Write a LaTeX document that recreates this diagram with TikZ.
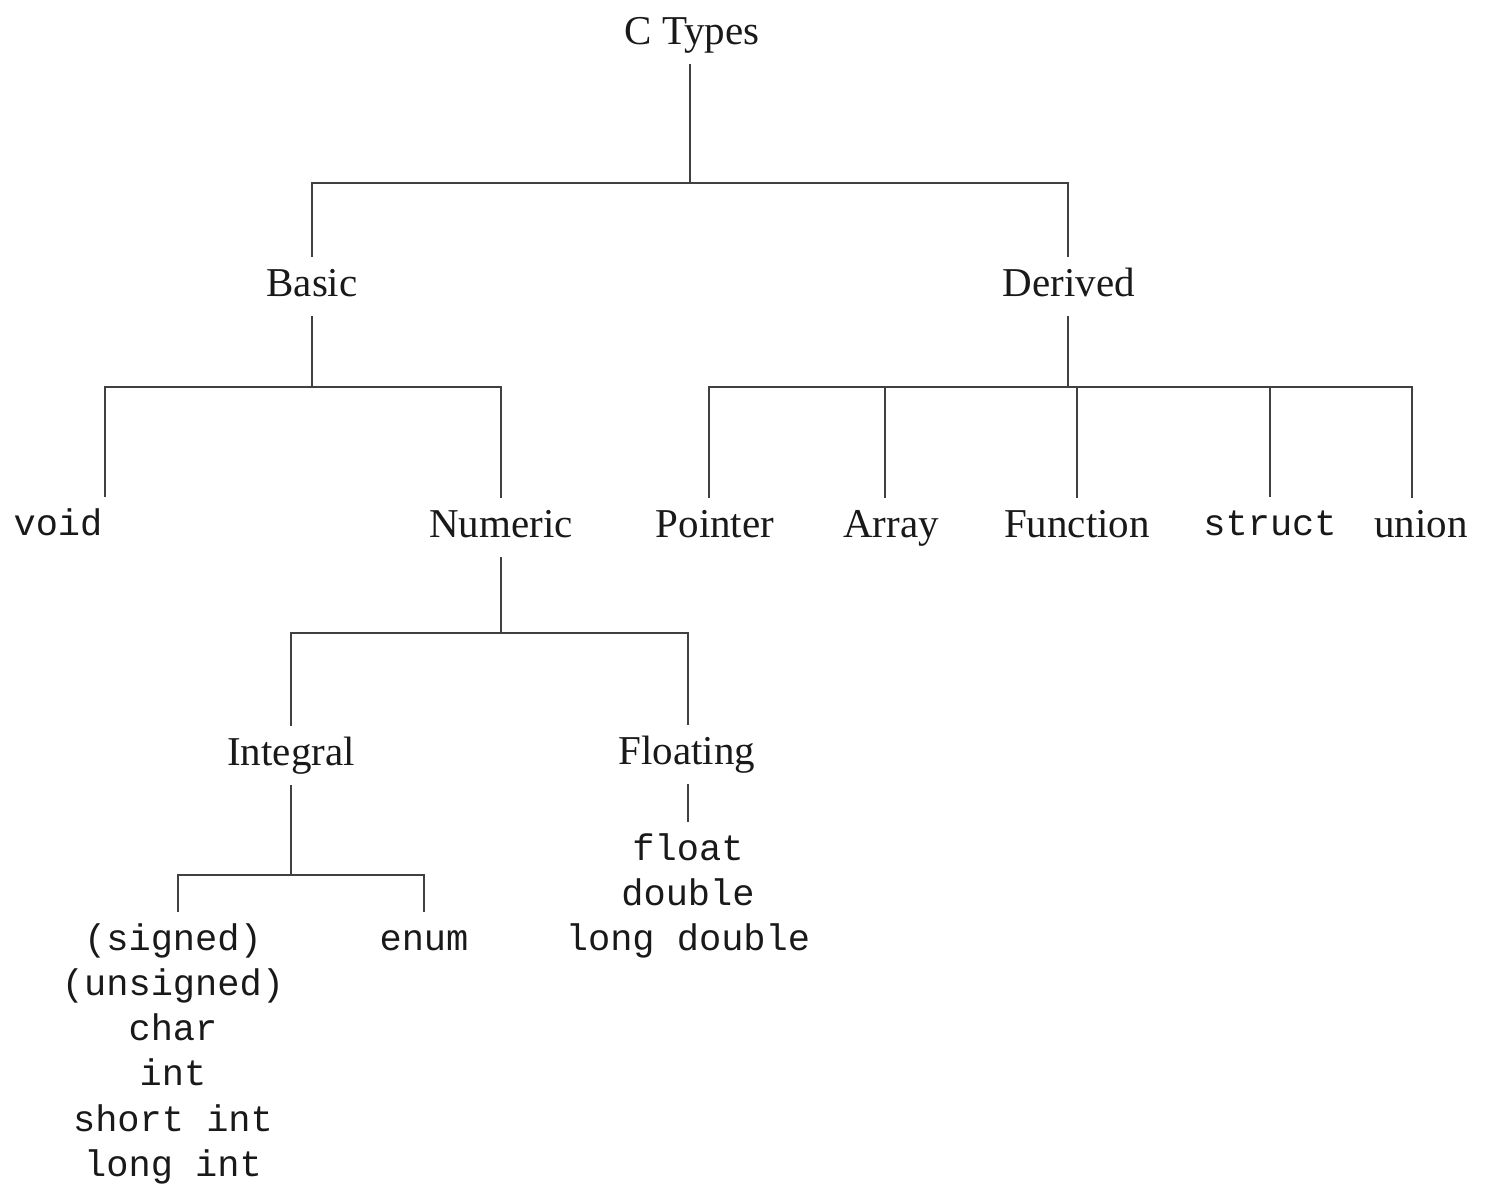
\documentclass[tikz,border=0pt]{standalone}
\usepackage{fontspec}
\setmainfont{Liberation Serif}
\setmonofont{Liberation Mono}
\begin{document}
\begin{tikzpicture}[x=1pt,y=-1pt,
  conn/.style={draw=black!75, line width=2pt},
  ser/.style={font=\fontsize{41}{45}\selectfont, text=black!90, text height=31pt, text depth=12pt, inner xsep=0pt, inner ysep=8pt, anchor=base},
  monolist/.style={font=\ttfamily\fontsize{37}{45.3}\selectfont, text=black!90, inner xsep=0pt, inner ysep=6pt, anchor=base},
  mono/.style={monolist, text height=31.7pt, text depth=13.6pt}]
\useasboundingbox (0,0) rectangle (1485,1183);
% bar levels
\coordinate (bar0) at (0,183);
\coordinate (bar1) at (0,387);
\coordinate (bar2) at (0,633);
\coordinate (bar3) at (0,875);
% nodes
\node[ser] (root) at (692,44) {C Types};
\node[ser] (basic) at (312,296) {Basic};
\node[ser] (derived) at (1069,296) {Derived};
\node[mono] (void) at (58,535) {void};
\node[ser] (numeric) at (501,537) {Numeric};
\node[ser] (pointer) at (715,537) {Pointer};
\node[ser] (array) at (891,537) {Array};
\node[ser] (function) at (1077,537) {Function};
\node[mono] (struct) at (1270,535) {struct};
\node[ser] (union) at (1421,537) {union};
\node[ser] (integral) at (291,765) {Integral};
\node[ser] (floating) at (687,764) {Floating};
\node[monolist] (intlist) at (173,950) {\begin{tabular}[t]{@{}c@{}}(signed)\\(unsigned)\\char\\int\\short int\\long int\end{tabular}};
\node[mono] (enum) at (424,950) {enum};
\node[monolist] (floatlist) at (688,860) {\begin{tabular}[t]{@{}c@{}}float\\double\\long double\end{tabular}};
% connectors
\draw[conn] ([xshift=-2pt]root.south) -- ([xshift=-2pt]root.south |- bar0);
\draw[conn] (basic.north) |- ([xshift=-1pt]derived.north |- bar0) -- ([xshift=-1pt]derived.north);
\draw[conn] (basic.south) -- (basic.south |- bar1);
\draw[conn] ([xshift=2pt]void.north east) |- (numeric.north |- bar1) -- (numeric.north);
\draw[conn] ([xshift=-1pt]derived.south) -- ([xshift=-1pt]derived.south |- bar1);
\draw[conn] ([xshift=-6pt]pointer.north) |- ([xshift=-9pt]union.north |- bar1) -- ([xshift=-9pt]union.north);
\draw[conn] ([xshift=-6pt]array.north) -- ([xshift=-6pt]array.north |- bar1);
\draw[conn] (function.north) -- (function.north |- bar1);
\draw[conn] (struct.north) -- (struct.north |- bar1);
\draw[conn] (numeric.south) -- (numeric.south |- bar2);
\draw[conn] (integral.north) |- ([xshift=1pt]floating.north |- bar2) -- ([xshift=1pt]floating.north);
\draw[conn] (integral.south) -- (integral.south |- bar3);
\draw[conn] ([xshift=5pt]intlist.north) |- (enum.north |- bar3) -- (enum.north);
\draw[conn] ([xshift=1pt]floating.south) -- ([xshift=1pt]floating.south |- floatlist.north);
\end{tikzpicture}
\end{document}
